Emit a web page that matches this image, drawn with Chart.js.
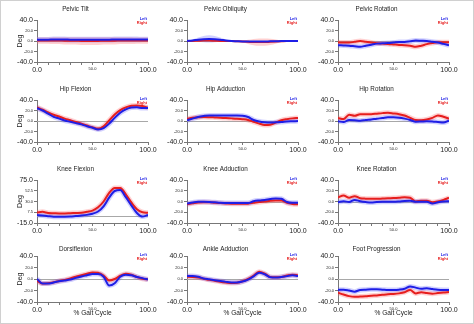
<!DOCTYPE html>
<html><head><meta charset="utf-8">
<script src="https://cdn.jsdelivr.net/npm/chart.js@4.4.0/dist/chart.umd.min.js"></script>
<style>
html,body{margin:0;padding:0;background:#fff;}
#wrap{position:relative;width:474px;height:324px;overflow:hidden;background:#fff;}
#frame{position:absolute;left:0;top:0;width:472px;height:322px;border:1px solid #d0d0d0;pointer-events:none;}
canvas{position:absolute;}
</style></head><body><div id="wrap"><div id="frame"></div></div>
<script>
// ---------- DATA ----------
const gaitPct = [0,5,10,15,20,25,30,35,40,45,50,55,60,65,70,75,80,85,90,95,100];
const xTicks = [0,10,20,30,40,50,60,70,80,90,100];
const xLabelled = [0,50,100];
const yTicksDeg = [-40,-20,0,20,40];
const yTicksKnee = [-15,7.5,30,52.5,75];
const seriesNames = ['Left','Right'];
const panelTitles = ['Pelvic Tilt','Pelvic Obliquity','Pelvic Rotation','Hip Flexion','Hip Adduction','Hip Rotation','Knee Flexion','Knee Adduction','Knee Rotation','Dorsiflexion','Ankle Adduction','Foot Progression'];
const yAxisTitle = 'Deg';
const xAxisTitle = '% Gait Cycle';

const pelvicTiltLeft  = [2.5,2.5,2.5,3,3,3,2.5,2.5,2.5,2.5,2.5,2.5,2.5,2.5,3,3,3,3,3,3,3];
const pelvicTiltRight = [1,1,1,1,1,0.5,0.5,0.5,0,0,0,0,0.5,0.5,0.5,1,1,1,1,1,1];
const pelvicTiltLeftSD  = [5,5,5,5.5,5.5,5.5,5.5,5.5,5.5,5.5,5.5,5.5,5.5,5.5,5.5,5.5,5.5,5.5,5.5,5,5];
const pelvicTiltRightSD = [6,6,6,6.5,6.5,7,7,7,7.5,7.5,7.5,7.5,7,7,7,6.5,6.5,6.5,6,6,6];

const pelvicObliquityLeft  = [0,1,2.5,3.5,4,3.5,2.5,1,0,-0.5,-1,-1,-1,-1,-1,-0.5,-0.5,0,0,0,0];
const pelvicObliquityRight = [0,0,0.5,1,1,0.5,0,0,0,-0.5,-1,-1.5,-2,-2,-2,-1.5,-1,-0.5,0,0,0];
const pelvicObliquityLeftSD  = [1,2,4,6,7,6,4,2,1,1,1,1,1,1,1,1,1,1,1,1,1];
const pelvicObliquityRightSD = [1,1,1,1,1,1,1,1,1,1,2,4,6,7,7,6,4,2,1,1,1];

const pelvicRotationLeft  = [-8,-8.5,-9,-10,-11,-9,-7,-5,-4.5,-4,-3,-2,-2,-0.5,1,0.5,0,-1.5,-3,-5.5,-8];
const pelvicRotationRight = [-2.5,-3,-3,-1.5,0,-1.5,-3,-4.5,-5,-5.5,-6.5,-7.5,-8,-9,-11,-9,-6,-4,-2.5,-2.5,-2.5];

const hipFlexionLeft  = [24.6,20,14,8,4.5,1,-1.5,-4,-6.5,-10,-13,-16,-13.5,-5,6,15.7,22,25.5,26,24.6,24.6];
const hipFlexionRight = [26,21.5,16.5,12,8.5,4.5,1.5,-2,-5,-8.5,-12,-14.5,-10,1,12.5,20.8,26,29,29.6,28.5,25];

const hipAdductionLeft  = [1.3,4.5,7.6,9.5,10.7,10.7,10.7,10.7,10.7,10.7,10,7.6,2,-1,-2.5,-3,-2.5,-2,-1,-0.5,0];
const hipAdductionRight = [4.4,6,7,7.6,7.3,6.8,6.3,5.5,5,4.4,3.5,2,-1.5,-5,-7.5,-7,-3,1.3,3.5,5,5.7];

const hipRotationLeft  = [-0.6,-2,2,1.5,0.6,2,3,4.5,5.5,7,7,6.3,4.5,2,-1.3,-1,-0.6,-1,-2,-3,0.6];
const hipRotationRight = [5.7,3.8,12,10,13,13,13,14,15,15.7,14.5,13,10.5,6,2,1.5,3,6,10.7,8,4.4];

const kneeFlexionLeft  = [1.7,0.5,-0.8,-1.7,-1.7,-1.7,-1.5,-0.5,0.5,2,4.5,9,20,38,52,54,39,22,6,-1.5,1.7];
const kneeFlexionRight = [7,8.3,6,5.5,5,5,5.5,6,6.5,8.5,11,18,30,48,58.5,58.3,45,28,14,7.5,6.3];

const kneeAdductionLeft  = [-3.8,-2,-0.6,-0.5,-0.8,-1.5,-2.5,-2.8,-3,-3,-3,-3,0.5,2,3,4.5,5.7,5,-1,-2.5,-2.5];
const kneeAdductionRight = [-5,-3.5,-2,-1.5,-1.5,-2.5,-3,-3.5,-4,-4.4,-4.4,-4,-2.5,-1,0,1.3,2,2,-2.5,-4.5,-5];

const kneeRotationLeft  = [-1.3,0.6,-1,3,0.6,-1,-2,-1,-0.6,-0.6,-0.6,0,1,1.3,-0.6,-0.6,-0.6,-3.8,-1.5,0,0.6];
const kneeRotationRight = [7.5,11,7,10,6,5.3,5,5,5.5,6,6.3,7,8,7,0,1.5,1.5,-1.5,0,3,7];

const dorsiflexionLeft  = [0,-8,-8,-6,-4,-2.5,-1,2,4.5,6.5,8.5,8.5,4,-11.5,-7.5,4,7.5,6.5,3.5,1.5,-1];
const dorsiflexionRight = [-3,-8,-7.5,-5.7,-3.5,-1.5,1,4,6.5,9,11.5,11,6,-2.5,0,5.7,9,7.5,3.5,0.5,-0.6];

const ankleAdductionLeft  = [5.3,5.3,4,1,-0.5,-2,-3.5,-5,-6,-6,-4.5,-1,4.5,11,8.2,3,2.5,3.5,5,6.4,5.3];
const ankleAdductionRight = [4,3.5,2.5,0.6,-1.5,-3,-4.7,-6,-7,-6.5,-4,0,6,12.8,9.3,3.5,3,3.5,6,7.6,6.4];

const footProgressionLeft  = [-19,-18.5,-20,-22,-19,-18.5,-18,-18,-18.5,-19,-19,-18.5,-17,-13,-15,-17,-16,-17.5,-18.7,-19,-19];
const footProgressionRight = [-24,-27,-29.8,-31,-30.5,-30,-29,-28.6,-27.5,-26.5,-26,-25,-23,-19,-25,-23,-24.5,-25.7,-24.5,-23.5,-22.8];

// ---------- PANELS ----------
const panels = [
  {L:pelvicTiltLeft, R:pelvicTiltRight, LSD:pelvicTiltLeftSD, RSD:pelvicTiltRightSD, yt:yTicksDeg},
  {L:pelvicObliquityLeft, R:pelvicObliquityRight, LSD:pelvicObliquityLeftSD, RSD:pelvicObliquityRightSD, yt:yTicksDeg},
  {L:pelvicRotationLeft, R:pelvicRotationRight, yt:yTicksDeg},
  {L:hipFlexionLeft, R:hipFlexionRight, yt:yTicksDeg},
  {L:hipAdductionLeft, R:hipAdductionRight, yt:yTicksDeg},
  {L:hipRotationLeft, R:hipRotationRight, yt:yTicksDeg},
  {L:kneeFlexionLeft, R:kneeFlexionRight, yt:yTicksKnee},
  {L:kneeAdductionLeft, R:kneeAdductionRight, yt:yTicksDeg},
  {L:kneeRotationLeft, R:kneeRotationRight, yt:yTicksDeg},
  {L:dorsiflexionLeft, R:dorsiflexionRight, yt:yTicksDeg},
  {L:ankleAdductionLeft, R:ankleAdductionRight, yt:yTicksDeg},
  {L:footProgressionLeft, R:footProgressionRight, yt:yTicksDeg}
];

// ---------- STYLE / LAYOUT ----------
const FONT = '"Liberation Sans", Arial, sans-serif';
const BLUE = '#1e1ee6', RED = '#e61e1e';
const colLeft = [37,187,338], plotW = 111;
const rowTop = [20,100,180,256], rowBottom = [62,142,223,302], titleGap = [10,10,10,6.5];
const axisW = 34, padR = 14, titleH = 16;

const pts = arr => gaitPct.map((x,i)=>({x, y:arr[i]}));
const band = (arr, sd, sign) => gaitPct.map((x,i)=>({x, y:arr[i] + sign*sd[i]}));

const zeroLine = { id:'zeroLine', beforeDatasetsDraw(chart){
  const {ctx, chartArea:a, scales:{y}} = chart; const py = Math.round(y.getPixelForValue(0))+0.5;
  ctx.save(); ctx.strokeStyle='#a8a8a8'; ctx.lineWidth=1; ctx.beginPath(); ctx.moveTo(a.left,py); ctx.lineTo(a.right,py); ctx.stroke(); ctx.restore();
}};
const miniLegend = { id:'miniLegend', afterDatasetsDraw(chart){
  const {ctx, chartArea:a} = chart;
  ctx.save(); ctx.font = 'bold 4px '+FONT; ctx.textAlign='right'; ctx.textBaseline='middle';
  ctx.fillStyle=BLUE; ctx.fillText(seriesNames[0], a.right-1, a.top-1.5);
  ctx.fillStyle=RED; ctx.fillText(seriesNames[1], a.right-1, a.top+2.5);
  ctx.restore();
}};

const wrap = document.getElementById('wrap');
panels.forEach((p, i) => {
  const r = Math.floor(i/3), c = i%3;
  const xAxisH = r===3 ? 18 : 12;
  const plotH = rowBottom[r]-rowTop[r];
  const cv = document.createElement('canvas');
  const W = axisW+plotW+padR, H = titleH+plotH+xAxisH;
  cv.width = W; cv.height = H;
  cv.style.left = (colLeft[c]-axisW)+'px'; cv.style.top = (rowTop[r]-titleH)+'px';
  cv.style.width = W+'px'; cv.style.height = H+'px';
  wrap.appendChild(cv);
  const yt = p.yt;
  const tpTop = titleH - titleGap[r] - 4.2;
  const ds = [];
  const line = (arr,col,lab) => ({label:lab, data:pts(arr), borderColor:col, borderWidth:2, pointRadius:0, fill:false, cubicInterpolationMode:'monotone', order:0});
  ds.push(line(p.L, BLUE, seriesNames[0]));
  ds.push(line(p.R, RED, seriesNames[1]));
  if (p.LSD) {
    const bnd = (arr,sd,col) => [
      {data:band(arr,sd,1), borderWidth:0, pointRadius:0, fill:'+1', backgroundColor:col, cubicInterpolationMode:'monotone', order:2},
      {data:band(arr,sd,-1), borderWidth:0, pointRadius:0, fill:false, cubicInterpolationMode:'monotone', order:2}];
    ds.push(...bnd(p.L, p.LSD, 'rgba(120,120,255,0.35)'));
    ds.push(...bnd(p.R, p.RSD, 'rgba(255,120,120,0.35)'));
  } else {
    const halo = (arr,col) => ({data:pts(arr), borderColor:col, borderWidth:5, pointRadius:0, fill:false, cubicInterpolationMode:'monotone', order:1});
    ds.push(halo(p.L,'rgba(90,90,255,0.28)'));
    ds.push(halo(p.R,'rgba(255,90,90,0.28)'));
  }
  new Chart(cv, {
    type:'line',
    data:{datasets:ds},
    plugins:[zeroLine, miniLegend],
    options:{
      responsive:false, animation:false, devicePixelRatio:1,
      layout:{padding:{left:0,right:padR,top:0,bottom:0}},
      plugins:{
        legend:{display:false}, tooltip:{enabled:false},
        title:{display:true, text:panelTitles[i], color:'#222', font:{family:FONT,size:6.3,weight:'normal'}, padding:{top:tpTop, bottom:titleH-8.4*6.3/7-tpTop}}
      },
      scales:{
        x:{type:'linear', min:0, max:100,
          afterBuildTicks:s=>{ s.ticks = xTicks.map(v=>({value:v})); },
          afterFit:s=>{ s.height = xAxisH; },
          ticks:{autoSkip:false, maxRotation:0, minRotation:0, padding:1, color:'#222',
            font:ctx=>({family:FONT, size:(ctx.index===0||ctx.index===xTicks.length-1)?7:4}),
            callback:v=> xLabelled.includes(v) ? v.toFixed(1) : ''},
          grid:{display:true, drawOnChartArea:false, drawTicks:true, tickLength:3, color:'#777'},
          border:{display:true, color:'#777'},
          title:{display:r===3, text:xAxisTitle, color:'#222', font:{family:FONT,size:6.6}, padding:{top:0,bottom:2.8}}
        },
        y:{type:'linear', min:yt[0], max:yt[yt.length-1],
          afterBuildTicks:s=>{ s.ticks = yt.map(v=>({value:v})); },
          afterFit:s=>{ s.width = axisW; },
          ticks:{autoSkip:false, padding:1, color:'#222',
            font:ctx=>({family:FONT, size:(ctx.index===0||ctx.index===yt.length-1)?7:4}),
            callback:v=> Number(v).toFixed(1)},
          grid:{display:true, drawOnChartArea:false, drawTicks:true, tickLength:3, color:'#777'},
          border:{display:true, color:'#777'},
          title:{display:c===0, text:yAxisTitle, color:'#222', font:{family:FONT,size:7}, padding:{top:13.3,bottom:0}}
        }
      }
    }
  });
});
</script></body></html>
